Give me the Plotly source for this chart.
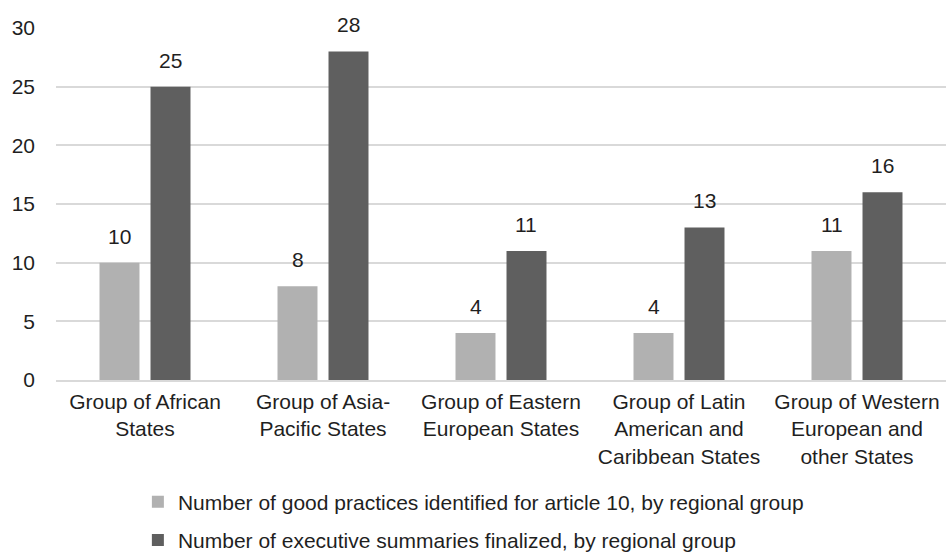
import plotly.graph_objects as go

categories = [
    "Group of African<br>States",
    "Group of Asia-<br>Pacific States",
    "Group of Eastern<br>European States",
    "Group of Latin<br>American and<br>Caribbean States",
    "Group of Western<br>European and<br>other States",
]
good_practices = [10, 8, 4, 4, 11]
executive_summaries = [25, 28, 11, 13, 16]
y_ticks = [0, 5, 10, 15, 20, 25, 30]

series_names = [
    "Number of good practices identified for article 10, by regional group",
    "Number of executive summaries finalized, by regional group",
]
series_colors = ["#B1B1B1", "#5F5F5F"]

FONT = "Liberation Sans, Arial, sans-serif"
FONT_SIZE = 21
TEXT_COLOR = "#1F1F1F"

WIDTH, HEIGHT = 946, 553
MARGIN = dict(l=56, r=0, t=28, b=173)
BARGAP, BARGROUPGAP = 0.427, 0.216

fig = go.Figure()
for name, values, color, group in zip(series_names,
                                      [good_practices, executive_summaries],
                                      series_colors, ["a", "b"]):
    fig.add_trace(go.Bar(
        x=categories, y=values, name=name,
        marker=dict(color=color, line=dict(width=0)),
        legendgroup=group,
    ))

# value labels above each bar, offset sideways to sit over its bar in the group
plot_w = WIDTH - MARGIN["l"] - MARGIN["r"]
slot = plot_w / len(categories) * (1 - BARGAP) / 2
for k, values in enumerate([good_practices, executive_summaries]):
    shift = (k - 0.5) * slot
    for cat, v in zip(categories, values):
        fig.add_annotation(
            x=cat, y=v, text=str(v), showarrow=False,
            xref="x", yref="y", yanchor="bottom", xshift=shift, yshift=13,
            font=dict(size=FONT_SIZE, color=TEXT_COLOR, family=FONT),
        )

fig.update_layout(
    width=WIDTH, height=HEIGHT,
    margin=MARGIN,
    paper_bgcolor="white", plot_bgcolor="white",
    font=dict(family=FONT, size=FONT_SIZE, color=TEXT_COLOR),
    barmode="group", bargap=BARGAP, bargroupgap=BARGROUPGAP,
    showlegend=True,
    legend=dict(
        orientation="v", x=0.092, xanchor="left",
        yref="container", y=0.129, yanchor="top",
        font=dict(size=FONT_SIZE, color=TEXT_COLOR), tracegroupgap=8,
        itemwidth=30,
    ),
    xaxis=dict(showgrid=False, showline=True, linecolor="#D9D9D9", linewidth=1.5,
               ticks="", tickfont=dict(size=FONT_SIZE, color=TEXT_COLOR),
               ticklabelstandoff=2),
    yaxis=dict(range=[0, 30], tickvals=y_ticks, showgrid=True, gridcolor="#D9D9D9",
               gridwidth=1.5, zeroline=False, showline=False, ticks="",
               tickfont=dict(size=FONT_SIZE, color=TEXT_COLOR), ticklabelstandoff=20),
)

fig.write_html("out.html")
